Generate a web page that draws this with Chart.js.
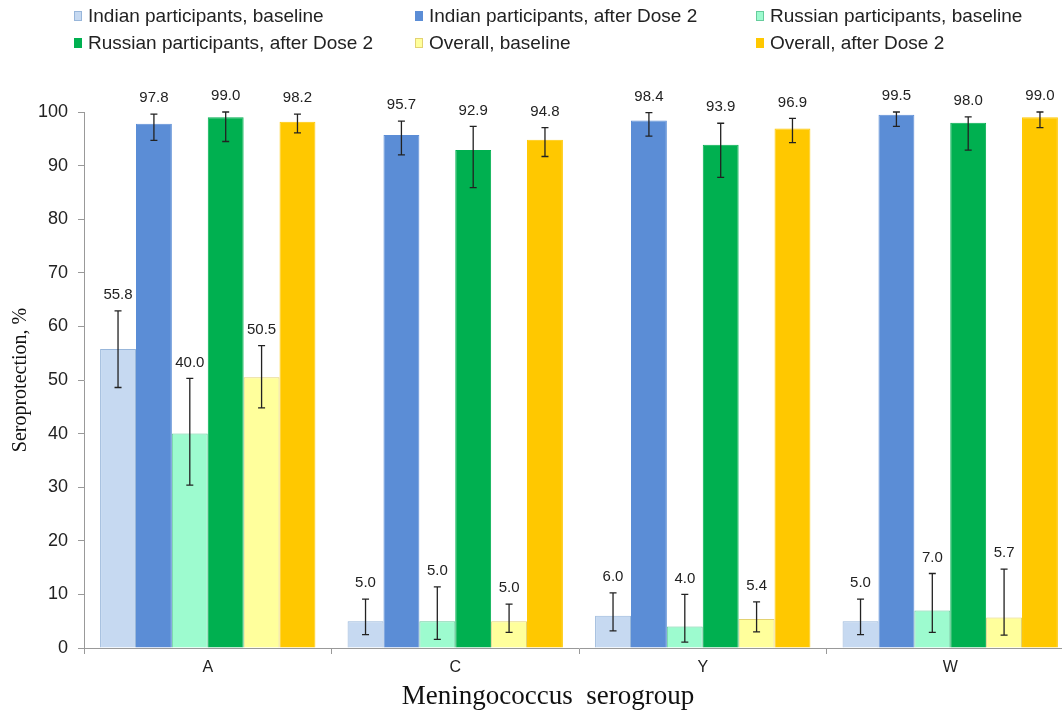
<!DOCTYPE html>
<html>
<head>
<meta charset="utf-8">
<script src="https://cdn.jsdelivr.net/npm/chart.js@4/dist/chart.umd.min.js"></script>
<style>
  html, body { margin: 0; padding: 0; overflow: hidden; background: #fff; width: 1062px; height: 712px; }
  #wrap { position: relative; width: 1078px; height: 712px; }
  #c { position: absolute; left: 0; top: 0; }
  .lg { position: absolute; font: 19px "Liberation Sans", Arial, sans-serif; color: #222; white-space: nowrap; transform: translateY(-50%); display: flex; align-items: center; }
  .sw { display: inline-block; width: 8px; height: 10px; box-sizing: border-box; margin-right: 6px; }
</style>
</head>
<body>
<div id="wrap">
  <canvas id="c" width="1078" height="712"></canvas>
  <div id="legend"></div>
</div>
<script>
const categories = ['A', 'C', 'Y', 'W'];
const seriesLabels = [
  'Indian participants, baseline',
  'Indian participants, after Dose 2',
  'Russian participants, baseline',
  'Russian participants, after Dose 2',
  'Overall, baseline',
  'Overall, after Dose 2'
];
const indianBaseline    = [55.8, 5.0, 6.0, 5.0];
const indianBaselineLo  = [48.6, 2.5, 3.2, 2.5];
const indianBaselineHi  = [62.9, 9.1, 10.3, 9.1];
const indianDose2       = [97.8, 95.7, 98.4, 99.5];
const indianDose2Lo     = [94.7, 92.0, 95.5, 97.3];
const indianDose2Hi     = [99.6, 98.3, 99.9, 100];
const russianBaseline   = [40.0, 5.0, 4.0, 7.0];
const russianBaselineLo = [30.4, 1.6, 1.1, 2.9];
const russianBaselineHi = [50.3, 11.4, 10.0, 13.9];
const russianDose2      = [99.0, 92.9, 93.9, 98.0];
const russianDose2Lo    = [94.5, 85.9, 87.8, 92.9];
const russianDose2Hi    = [100, 97.3, 97.9, 99.1];
const overallBaseline   = [50.5, 5.0, 5.4, 5.7];
const overallBaselineLo = [44.8, 2.9, 3.0, 2.4];
const overallBaselineHi = [56.4, 8.2, 8.6, 14.7];
const overallDose2      = [98.2, 94.8, 96.9, 99.0];
const overallDose2Lo    = [96.1, 91.7, 94.3, 97.1];
const overallDose2Hi    = [99.6, 97.1, 98.8, 100];
const yTicks = [0, 10, 20, 30, 40, 50, 60, 70, 80, 90, 100];
const xTitle = 'Meningococcus  serogroup';
const yTitle = 'Seroprotection, %';

const seriesValues = [indianBaseline, indianDose2, russianBaseline, russianDose2, overallBaseline, overallDose2];
const seriesLo = [indianBaselineLo, indianDose2Lo, russianBaselineLo, russianDose2Lo, overallBaselineLo, overallDose2Lo];
const seriesHi = [indianBaselineHi, indianDose2Hi, russianBaselineHi, russianDose2Hi, overallBaselineHi, overallDose2Hi];
const fills   = ['#C6D9F1', '#5B8DD6', '#9DFBCF', '#00B050', '#FFFF9C', '#FFC800'];
const borders = ['#98B6DA', '#5B8DD6', '#66CC9C', '#00B050', '#E3D272', '#FFC800'];

// HTML legend in a 3-column grid
const legendCols = [74, 415, 756];
const legendRows = [16, 43];
const legendEl = document.getElementById('legend');
seriesLabels.forEach((lab, i) => {
  const d = document.createElement('div');
  d.className = 'lg';
  d.style.left = legendCols[i % 3] + 'px';
  d.style.top = legendRows[Math.floor(i / 3)] + 'px';
  const s = document.createElement('span');
  s.className = 'sw';
  s.style.background = fills[i];
  s.style.border = '1px solid ' + borders[i];
  d.appendChild(s);
  d.appendChild(document.createTextNode(lab));
  legendEl.appendChild(d);
});

const errorBarPlugin = {
  id: 'errorBars',
  afterDatasetsDraw(chart) {
    const ctx = chart.ctx;
    const yScale = chart.scales.y;
    ctx.save();
    chart.data.datasets.forEach((ds, di) => {
      const meta = chart.getDatasetMeta(di);
      meta.data.forEach((bar, i) => {
        const x = bar.x;
        const yTop = yScale.getPixelForValue(seriesHi[di][i]);
        const yBot = yScale.getPixelForValue(seriesLo[di][i]);
        ctx.strokeStyle = '#222';
        ctx.lineWidth = 1.3;
        ctx.beginPath();
        ctx.moveTo(x, yTop); ctx.lineTo(x, yBot);
        ctx.moveTo(x - 3.5, yTop); ctx.lineTo(x + 3.5, yTop);
        ctx.moveTo(x - 3.5, yBot); ctx.lineTo(x + 3.5, yBot);
        ctx.stroke();
        const top = Math.min(yTop, bar.y);
        ctx.fillStyle = '#222';
        ctx.font = '15px "Liberation Sans", Arial, sans-serif';
        ctx.textAlign = 'center';
        ctx.textBaseline = 'middle';
        ctx.fillText(ds.data[i].toFixed(1), x, top - 16);
      });
    });
    // x-axis title (placed as in the reference, slightly left of the plot centre)
    ctx.fillStyle = '#111';
    ctx.font = '27px "Liberation Serif", "Times New Roman", serif';
    ctx.textAlign = 'center';
    ctx.textBaseline = 'alphabetic';
    ctx.fillText(xTitle, 548, 704);
    ctx.restore();
  }
};

new Chart(document.getElementById('c'), {
  type: 'bar',
  data: {
    labels: categories,
    datasets: seriesLabels.map((lab, i) => ({
      label: lab,
      data: seriesValues[i],
      backgroundColor: fills[i],
      borderColor: borders[i],
      borderWidth: 1,
      categoryPercentage: 0.87,
      barPercentage: 1.0
    }))
  },
  options: {
    responsive: false,
    animation: false,
    devicePixelRatio: 1,
    layout: { padding: { top: 112, right: 4, bottom: 0, left: 0 } },
    plugins: { legend: { display: false }, tooltip: { enabled: false } },
    scales: {
      x: {
        grid: { display: true, drawOnChartArea: false, tickLength: 6, color: '#999', offset: true },
        border: { color: '#999', width: 1 },
        ticks: { color: '#222', padding: 6, font: { family: '"Liberation Sans", Arial, sans-serif', size: 16, lineHeight: 1 } },
        title: { display: false },
        afterFit(s) { s.height = 64; }
      },
      y: {
        min: 0, max: 100,
        afterBuildTicks(s) { s.ticks = yTicks.map(v => ({ value: v })); },
        grid: { display: true, drawOnChartArea: false, tickLength: 6, color: '#999' },
        border: { color: '#999', width: 1 },
        ticks: { color: '#222', padding: 10, font: { family: '"Liberation Sans", Arial, sans-serif', size: 18 } },
        title: { display: true, text: yTitle, color: '#111', padding: { top: 9, bottom: 0 },
                 font: { family: '"Liberation Serif", "Times New Roman", serif', size: 20, lineHeight: 1.2 } },
        afterFit(s) { s.width = 84; }
      }
    }
  },
  plugins: [errorBarPlugin]
});
</script>
</body>
</html>
